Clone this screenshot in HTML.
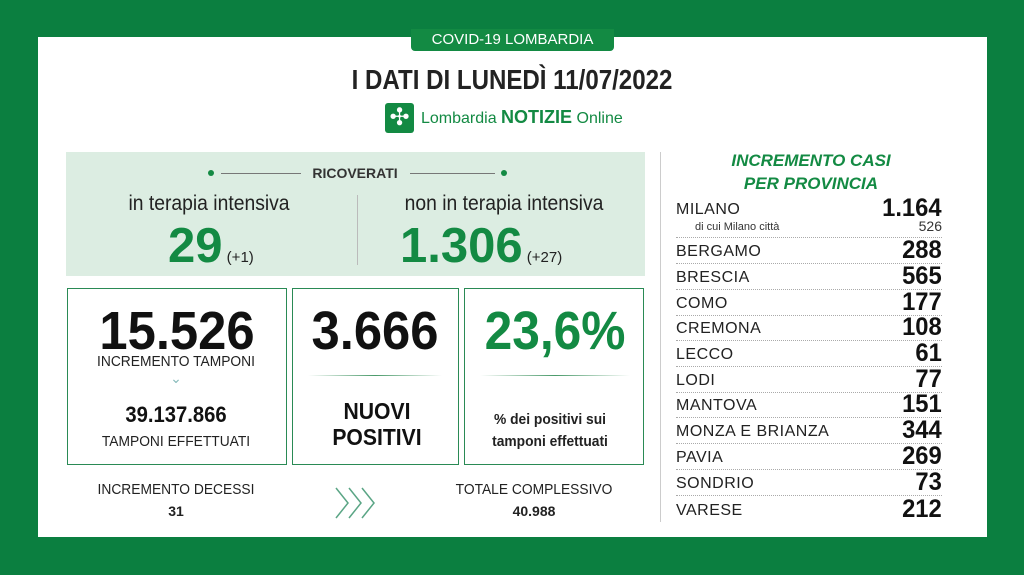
<!DOCTYPE html>
<html><head><meta charset="utf-8"><style>
*{margin:0;padding:0;box-sizing:border-box}
body{width:1024px;height:575px;background:#0b7f40;position:relative;overflow:hidden;font-family:"Liberation Sans",Arial,sans-serif;color:#111}
.a{position:absolute;white-space:nowrap}
.c{transform:translateX(-50%)}
.n{transform:translateX(-50%) scaleX(0.92)}
.g{color:#138a43}
.row{position:absolute;left:676px;width:266px;height:26px;border-bottom:1px dotted #aaa}
.row .l{position:absolute;left:0;bottom:2px;font-size:16px;letter-spacing:0.5px;color:#222}
.row .v{position:absolute;right:0;bottom:-2px;font-size:25px;font-weight:bold;transform:scaleX(0.95);transform-origin:right}
.box{position:absolute;top:288px;height:177px;border:1.5px solid #2a8a55;background:#fff}
</style></head><body>
<div class="a" style="left:38px;top:37px;width:949px;height:500px;background:#fff"></div>
<div class="a" style="left:411px;top:29px;width:203px;height:22px;background:#138a43;border-radius:0 0 4px 4px;color:#fff;font-size:15px;text-align:center;line-height:22px">COVID-19 LOMBARDIA</div>
<div class="a c" style="left:512px;top:64px;font-size:28px;font-weight:bold;color:#222"><span style="display:inline-block;transform:scaleX(0.86)">I DATI DI LUNEDÌ 11/07/2022</span></div>
<div class="a" style="left:385px;top:103px;width:29px;height:30px;background:#138a43;border-radius:3px;color:#fff;font-size:24px;text-align:center;line-height:30px">✣</div>
<div class="a g" style="left:421px;top:107px;font-size:16px">Lombardia <b style="font-size:18px">NOTIZIE</b> Online</div>
<div class="a" style="left:66px;top:152px;width:579px;height:124px;background:#dcede2"></div>
<div class="a" style="left:208px;top:170px;width:6px;height:6px;border-radius:50%;background:#138a43"></div>
<div class="a" style="left:221px;top:173px;width:80px;height:1px;background:#777"></div>
<div class="a" style="left:410px;top:173px;width:85px;height:1px;background:#777"></div>
<div class="a" style="left:501px;top:170px;width:6px;height:6px;border-radius:50%;background:#138a43"></div>
<div class="a c" style="left:355px;top:165px;font-size:14px;font-weight:bold;color:#333">RICOVERATI</div>
<div class="a" style="left:357px;top:195px;width:1px;height:70px;background:#bbb"></div>
<div class="a n" style="left:209px;top:192px;font-size:21px;color:#222">in terapia intensiva</div>
<div class="a n" style="left:504px;top:192px;font-size:21px;color:#222">non in terapia intensiva</div>
<div class="a g" style="left:168px;top:218px;font-size:49px;font-weight:bold">29<span style="font-size:15px;color:#222;font-weight:normal"> (+1)</span></div>
<div class="a g" style="left:400px;top:218px;font-size:49px;font-weight:bold">1.306<span style="font-size:15px;color:#222;font-weight:normal"> (+27)</span></div>
<div class="box" style="left:67px;width:220px"></div>
<div class="box" style="left:292px;width:167px"></div>
<div class="box" style="left:464px;width:180px"></div>
<div class="a c" style="left:177px;top:300px;font-size:54px;font-weight:bold"><span style="display:inline-block;transform:scaleX(0.94)">15.526</span></div>
<div class="a n" style="left:176px;top:353px;font-size:15px;color:#222">INCREMENTO TAMPONI</div>
<div class="a c" style="left:176px;top:370px;font-size:14px;color:#8bb">&#8964;</div>
<div class="a n" style="left:176px;top:402px;font-size:22px;font-weight:bold">39.137.866</div>
<div class="a n" style="left:176px;top:433px;font-size:15px;color:#222">TAMPONI EFFETTUATI</div>
<div class="a c" style="left:375px;top:300px;font-size:54px;font-weight:bold"><span style="display:inline-block;transform:scaleX(0.94)">3.666</span></div>
<div class="a" style="left:308px;top:375px;width:134px;height:1px;background:linear-gradient(90deg,#fff,#4a9a6a,#fff)"></div>
<div class="a n" style="left:377px;top:398px;font-size:23px;font-weight:bold;text-align:center;line-height:26px">NUOVI<br>POSITIVI</div>
<div class="a c g" style="left:555px;top:300px;font-size:54px;font-weight:bold"><span style="display:inline-block;transform:scaleX(0.92)">23,6%</span></div>
<div class="a" style="left:480px;top:375px;width:150px;height:1px;background:linear-gradient(90deg,#fff,#4a9a6a,#fff)"></div>
<div class="a n" style="left:550px;top:409px;font-size:15px;font-weight:bold;text-align:center;line-height:22px;color:#222">% dei positivi sui<br>tamponi effettuati</div>
<div class="a n" style="left:176px;top:481px;font-size:15px;color:#222">INCREMENTO DECESSI</div>
<div class="a c" style="left:176px;top:503px;font-size:14px;font-weight:bold;color:#222">31</div>
<svg class="a" style="left:334px;top:486px" width="48" height="34" viewBox="0 0 48 34"><g fill="none" stroke="#5aa585" stroke-width="1.5"><path d="M2 2 L14 17 L2 32"/><path d="M15 2 L27 17 L15 32"/><path d="M28 2 L40 17 L28 32"/></g></svg>
<div class="a n" style="left:534px;top:481px;font-size:15px;color:#222">TOTALE COMPLESSIVO</div>
<div class="a c" style="left:534px;top:503px;font-size:14px;font-weight:bold;color:#222">40.988</div>
<div class="a" style="left:660px;top:152px;width:1px;height:370px;background:#ccc"></div>
<div class="a c g" style="left:811px;top:149px;font-size:17px;font-weight:bold;font-style:italic;text-align:center;line-height:23px">INCREMENTO CASI<br>PER PROVINCIA</div>
<div class="row" style="top:196px;height:42px"><span class="l" style="top:5px;bottom:auto">MILANO</span><span class="v" style="top:-2px;bottom:auto">1.164</span><span class="a" style="left:19px;top:25px;font-size:11px;color:#333">di cui Milano città</span><span class="a" style="right:0;top:22px;font-size:14px;color:#333">526</span></div>
<div class="row" style="top:238px"><span class="l">BERGAMO</span><span class="v">288</span></div>
<div class="row" style="top:264px"><span class="l">BRESCIA</span><span class="v">565</span></div>
<div class="row" style="top:290px"><span class="l">COMO</span><span class="v">177</span></div>
<div class="row" style="top:315px"><span class="l">CREMONA</span><span class="v">108</span></div>
<div class="row" style="top:341px"><span class="l">LECCO</span><span class="v">61</span></div>
<div class="row" style="top:367px"><span class="l">LODI</span><span class="v">77</span></div>
<div class="row" style="top:392px"><span class="l">MANTOVA</span><span class="v">151</span></div>
<div class="row" style="top:418px"><span class="l">MONZA E BRIANZA</span><span class="v">344</span></div>
<div class="row" style="top:444px"><span class="l">PAVIA</span><span class="v">269</span></div>
<div class="row" style="top:470px"><span class="l">SONDRIO</span><span class="v">73</span></div>
<div class="row" style="top:496px;border:none"><span class="l">VARESE</span><span class="v">212</span></div>
</body></html>
